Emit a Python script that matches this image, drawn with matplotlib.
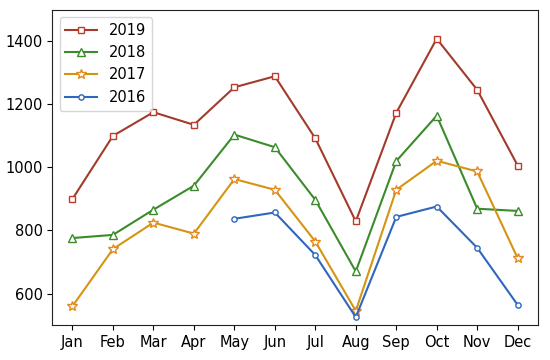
import matplotlib

matplotlib.use("Agg")
import matplotlib.pyplot as plt
import numpy as np

months = ["Jan", "Feb", "Mar", "Apr", "May", "Jun",
          "Jul", "Aug", "Sep", "Oct", "Nov", "Dec"]

# monthly values (2016 starts in May)
v2019 = [900, 1100, 1175, 1135, 1254, 1289, 1092, 829, 1173, 1408, 1246, 1006]
v2018 = [776, 786, 866, 942, 1104, 1064, 897, 670, 1020, 1164, 869, 862]
v2017 = [560, 741, 825, 790, 963, 929, 765, 545, 929, 1021, 987, 712]
v2016 = [np.nan, np.nan, np.nan, np.nan, 837, 857, 722, 525, 843, 876, 745, 564]

series = [
    ("2019", v2019, "#a23b2c", "#c0392b", "s", 5),
    ("2018", v2018, "#3a8c2a", "#3a8c2a", "^", 5.5),
    ("2017", v2017, "#d39512", "#e6891c", "*", 7.5),
    ("2016", v2016, "#2e67bd", "#2e67bd", "o", 3.8),
]

plt.rcParams["font.family"] = ["DejaVu Sans"]
plt.rcParams["font.size"] = 10.5

fig = plt.figure(figsize=(5.5, 3.6), dpi=100)
ax = fig.add_axes([0.095, 0.097, 0.883, 0.876])

x = np.arange(len(months))
for label, vals, col, mcol, mk, ms in series:
    ax.plot(x, vals, color=col, lw=1.5, marker=mk, ms=ms,
            markerfacecolor="white", markeredgecolor=mcol,
            markeredgewidth=1.0, label=label)

ax.set_xticks(x)
ax.set_xticklabels(months)
ax.set_xlim(-0.5, 11.5)
ax.set_ylim(500, 1500)
ax.set_yticks([600, 800, 1000, 1200, 1400])
for s in ax.spines.values():
    s.set_color("#222222")

ax.legend(loc="upper left", fontsize=10.5, handlelength=2.2)

fig.savefig("out.png", dpi=100)
